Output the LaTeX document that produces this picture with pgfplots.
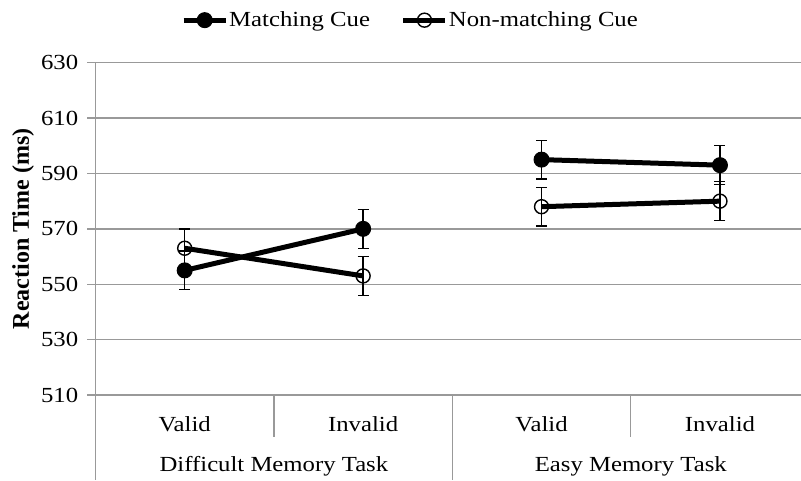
\documentclass[border=0pt]{standalone}
\usepackage{pgfplots}
\pgfplotsset{compat=1.18}
\usepackage{fontspec}
\setmainfont[FakeStretch=1.15]{Liberation Serif}
\newfontfamily\ylabfont{Liberation Serif}
\definecolor{gridgray}{HTML}{999999}
\begin{document}
\fontsize{21.5}{25}\selectfont
\begin{tikzpicture}
\useasboundingbox (-95.5pt,-85pt) rectangle (705.5pt,395pt);
\begin{axis}[
  at={(0pt,0pt)}, anchor=south west,
  scale only axis, width=706pt, height=332.3pt,
  xmin=-0.5, xmax=3.457, ymin=510, ymax=630,
  ytick={510,530,...,630},
  xtick=\empty,
  ymajorgrids, grid style={gridgray, line width=1.4pt},
  axis line style={draw=none},
  major tick length=8pt, tick align=outside, ytick pos=left,
  tick style={gridgray, line width=1.4pt},
  yticklabel style={xshift=-2pt},
  /pgf/number format/assume math mode=true,
  clip=false,
  legend style={at={(0.4455,1.128)}, anchor=center, draw=none, fill=none,
    legend columns=2, /tikz/every even column/.append style={column sep=30pt},
    nodes={inner xsep=1pt}},
  legend image code/.code={\draw[mark repeat=2,mark phase=2,#1] plot coordinates {(0pt,0pt) (21pt,0pt) (42pt,0pt)};},
  error bars/error bar style={black, line width=1.3pt},
  error bars/error mark options={rotate=90, mark size=5.5pt, line width=1.3pt, black},
]
\addplot[black, line width=5pt, mark=*, mark size=7.5pt, mark options={solid, line width=1pt},
  error bars/.cd, y dir=both, y explicit]
  coordinates {(0,555) +- (0,7) (1,570) +- (0,7)};
\addlegendentry{Matching Cue}
\addplot[black, line width=5pt, mark=o, mark size=7pt, mark options={solid, line width=1.4pt},
  error bars/.cd, y dir=both, y explicit]
  coordinates {(0,563) +- (0,7) (1,553) +- (0,7)};
\addlegendentry{Non-matching Cue}
\addplot[black, line width=5pt, mark=*, mark size=7.5pt, mark options={solid, line width=1pt}, forget plot,
  error bars/.cd, y dir=both, y explicit]
  coordinates {(2,595) +- (0,7) (3,593) +- (0,7)};
\addplot[black, line width=5pt, mark=o, mark size=7pt, mark options={solid, line width=1.4pt}, forget plot,
  error bars/.cd, y dir=both, y explicit]
  coordinates {(2,578) +- (0,7) (3,580) +- (0,7)};
% frame lines
\draw[gridgray, line width=1.4pt] (axis cs:-0.5,630) -- (axis cs:-0.5,510) -- ++(0pt,-85pt);
\draw[gridgray, line width=1.4pt] (axis cs:0.5,510) -- ++(0pt,-42pt);
\draw[gridgray, line width=1.4pt] (axis cs:1.5,510) -- ++(0pt,-85pt);
\draw[gridgray, line width=1.4pt] (axis cs:2.5,510) -- ++(0pt,-42pt);
% category labels
\node[anchor=base] at ([yshift=-36.7pt]axis cs:0,510) {Valid};
\node[anchor=base] at ([yshift=-36.7pt]axis cs:1,510) {Invalid};
\node[anchor=base] at ([yshift=-36.7pt]axis cs:2,510) {Valid};
\node[anchor=base] at ([yshift=-36.7pt]axis cs:3,510) {Invalid};
\node[anchor=base] at ([yshift=-76.7pt]axis cs:0.5,510) {Difficult Memory Task};
\node[anchor=base] at ([yshift=-76.7pt]axis cs:2.5,510) {Easy Memory Task};
\node[rotate=90, font=\fontsize{24}{28}\ylabfont\bfseries] at ([xshift=-72.5pt]axis cs:-0.5,570) {Reaction Time (ms)};
\end{axis}
\end{tikzpicture}
\end{document}
